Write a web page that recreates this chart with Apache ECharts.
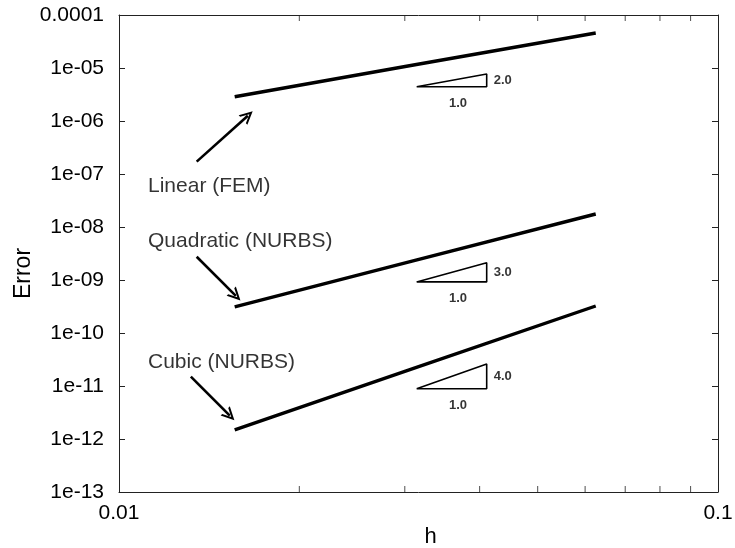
<!DOCTYPE html>
<html>
<head>
<meta charset="utf-8">
<script src="https://cdn.jsdelivr.net/npm/echarts@6/dist/echarts.min.js"></script>
<style>html,body{margin:0;padding:0;background:#fff}#c{width:735px;height:548px}</style>
</head>
<body>
<div id="c"></div>
<script>
// ---- data ----
const hValues = [0.0156, 0.0312, 0.0625];
const linearErr = [2.87e-6, 1.15e-5, 4.57e-5];
const quadraticErr = [3.1e-10, 2.35e-9, 1.76e-8];
const cubicErr = [1.48e-12, 2.19e-11, 3.23e-10];

const yTickLabels = ['1e-13','1e-12','1e-11','1e-10','1e-09','1e-08','1e-07','1e-06','1e-05','0.0001'];
const xTickLabels = ['0.01','0.1'];
const xMinorTicks = [0.02,0.03,0.04,0.05,0.06,0.07,0.08,0.09];

// slope triangles [x, y]
const tri1 = [[0.0314,4.44e-6],[0.0411,4.44e-6],[0.0411,7.7e-6],[0.0314,4.44e-6]];
const tri2 = [[0.0314,9.2e-10],[0.0411,9.2e-10],[0.0411,2.12e-9],[0.0314,9.2e-10]];
const tri3 = [[0.0314,8.9e-12],[0.0411,8.9e-12],[0.0411,2.6e-11],[0.0314,8.9e-12]];
const slopeLabels = [
  {text:'2.0', at:[0.0411, 5.85e-6]},
  {text:'3.0', at:[0.0411, 1.4e-9]},
  {text:'4.0', at:[0.0411, 1.52e-11]}
];
const runLabels = [
  {text:'1.0', at:[0.0368, 4.44e-6]},
  {text:'1.0', at:[0.0368, 9.2e-10]},
  {text:'1.0', at:[0.0368, 8.9e-12]}
];
// annotations
const curveLabels = [
  {text:'Linear (FEM)', at:[0.01118, 5.94e-8]},
  {text:'Quadratic (NURBS)', at:[0.01118, 5.28e-9]},
  {text:'Cubic (NURBS)', at:[0.01118, 2.87e-11]}
];
const arrows = [
  [[0.01348, 1.71e-7],[0.01641, 1.26e-6]],
  [[0.01348, 2.75e-9],[0.01567, 5.03e-10]],
  [[0.01318, 1.50e-11],[0.01531, 2.77e-12]]
];

const FONT = 'Liberation Sans, Arial, Helvetica, sans-serif';
const chevron = 'path://M0,10 L5,0 L10,10 L8.3,10 L5,3.4 L1.7,10 Z';

function zip(xs, ys){ return xs.map((x,i)=>[x, ys[i]]); }

const axisCommon = {
  type:'log', logBase:10,
  axisLine:{show:true, lineStyle:{color:'#222', width:1}},
  axisTick:{show:true, inside:true, length:6, lineStyle:{color:'#222', width:1}},
  splitLine:{show:false}
};

const option = {
  animation:false,
  backgroundColor:'#fff',
  grid:{left:119, right:17, top:15, bottom:56, containLabel:false, outerBoundsMode:'none'},
  xAxis:[
    Object.assign({}, axisCommon, {
      position:'bottom', min:0.01, max:0.1,
      name:'h', nameLocation:'middle', nameGap:34, nameMoveOverlap:false,
      nameTextStyle:{fontFamily:FONT, fontSize:22, color:'#000', padding:[0,0,0,24]},
      axisLabel:{fontFamily:FONT, fontSize:21, color:'#000', margin:11,
        formatter:(v)=>xTickLabels[Math.round(Math.log10(v))+2] || ''}
    }),
    Object.assign({}, axisCommon, {
      position:'top', min:0.01, max:0.1, axisLabel:{show:false}
    })
  ],
  yAxis:[
    Object.assign({}, axisCommon, {
      position:'left', min:1e-13, max:1e-4, splitNumber:9,
      name:'Error', nameLocation:'middle', nameGap:84, nameMoveOverlap:false,
      nameTextStyle:{fontFamily:FONT, fontSize:23, color:'#000', padding:[0,40,0,0]},
      axisLabel:{fontFamily:FONT, fontSize:21, color:'#000', margin:15,
        formatter:(v)=>yTickLabels[Math.round(Math.log10(v))+13] || ''}
    }),
    Object.assign({}, axisCommon, {
      position:'right', min:1e-13, max:1e-4, splitNumber:9, axisLabel:{show:false}
    })
  ],
  series:[
    {type:'line', data:zip(hValues, linearErr), symbol:'none', lineStyle:{color:'#000', width:3.4}},
    {type:'line', data:zip(hValues, quadraticErr), symbol:'none', lineStyle:{color:'#000', width:3.4}},
    {type:'line', data:zip(hValues, cubicErr), symbol:'none', lineStyle:{color:'#000', width:3.4}},
    {type:'line', data:tri1, symbol:'none', lineStyle:{color:'#000', width:1.6}},
    {type:'line', data:tri2, symbol:'none', lineStyle:{color:'#000', width:1.6}},
    {type:'line', data:tri3, symbol:'none', lineStyle:{color:'#000', width:1.6}},
    {type:'scatter', symbolSize:0, silent:true,
      data:slopeLabels.map(d=>({value:d.at, label:{formatter:d.text}})),
      label:{show:true, position:'right', distance:7, fontFamily:FONT, fontSize:13, fontWeight:'bold', color:'#000'}},
    {type:'scatter', symbolSize:0, silent:true,
      data:runLabels.map(d=>({value:d.at, label:{formatter:d.text}})),
      label:{show:true, position:'bottom', distance:10, fontFamily:FONT, fontSize:13, fontWeight:'bold', color:'#000'}},
    {type:'scatter', symbolSize:0, silent:true,
      data:curveLabels.map(d=>({value:d.at, label:{formatter:d.text}})),
      label:{show:true, position:'right', distance:0, fontFamily:FONT, fontSize:21, color:'#000'}},
    // minor ticks on bottom and top x axis
    {type:'scatter', silent:true, symbol:'rect', symbolSize:[1,6], symbolOffset:[0,-3],
      itemStyle:{color:'#222'}, data:xMinorTicks.map(x=>[x,1e-13])},
    {type:'scatter', silent:true, symbol:'rect', symbolSize:[1,6], symbolOffset:[0,3],
      itemStyle:{color:'#222'}, data:xMinorTicks.map(x=>[x,1e-4])},
    // arrows
    {type:'line', data:[], silent:true,
      markLine:{silent:true, animation:false, symbol:['none', chevron], symbolSize:[13,13],
        label:{show:false}, lineStyle:{color:'#000', width:2.6, type:'solid'},
        emphasis:{disabled:true},
        data:arrows.map(a=>[{coord:a[0]},{coord:a[1]}])}}
  ]
};
const chart = echarts.init(document.getElementById('c'), null, {renderer:'canvas'});
chart.setOption(option);
</script>
</body>
</html>
